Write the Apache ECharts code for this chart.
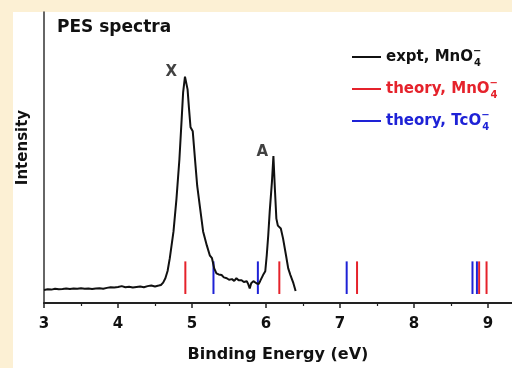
<!DOCTYPE html>
<html>
<head>
<meta charset="utf-8">
<script src="https://cdn.jsdelivr.net/npm/echarts@6/dist/echarts.min.js"></script>
<style>
  html, body { margin: 0; padding: 0; background: #fcf0d4; }
  #panel { position: absolute; left: 13px; top: 12px; width: 499px; height: 356px; background: #ffffff; }
  #chart { position: absolute; left: 0; top: 0; width: 512px; height: 368px; }
</style>
</head>
<body>
<div id="panel"></div>
<div id="chart"></div>
<script>
// ---- data ----
const exptEnergy = [
  3.00, 3.05, 3.10, 3.15, 3.20, 3.25, 3.30, 3.35, 3.40, 3.45, 3.50, 3.55, 3.60, 3.65, 3.70, 3.75,
  3.80, 3.85, 3.90, 3.95, 4.00, 4.05, 4.10, 4.15, 4.20, 4.25, 4.30, 4.35, 4.40, 4.45, 4.50, 4.55,
  4.58, 4.61, 4.64, 4.67, 4.70, 4.75, 4.79, 4.83, 4.86, 4.88, 4.905, 4.94, 4.96, 4.98, 5.01, 5.04,
  5.07, 5.11, 5.15, 5.20, 5.24, 5.27, 5.30, 5.33, 5.36, 5.40, 5.43, 5.47, 5.50, 5.54, 5.57, 5.60,
  5.63, 5.67, 5.70, 5.74, 5.76, 5.78, 5.80, 5.83, 5.85, 5.87, 5.90, 5.92, 5.94, 5.96, 5.99, 6.01,
  6.03, 6.05, 6.08, 6.10, 6.12, 6.14, 6.16, 6.20, 6.23, 6.27, 6.30, 6.33, 6.37, 6.40
];
const exptIntensity = [
  0.045, 0.047, 0.046, 0.049, 0.047, 0.048, 0.050, 0.048, 0.050, 0.049, 0.051, 0.049, 0.050, 0.048, 0.050, 0.051,
  0.049, 0.052, 0.054, 0.053, 0.055, 0.058, 0.054, 0.056, 0.053, 0.055, 0.057, 0.054, 0.058, 0.060, 0.057, 0.060,
  0.062, 0.070, 0.085, 0.110, 0.154, 0.246, 0.358, 0.495, 0.631, 0.724, 0.778, 0.734, 0.666, 0.604, 0.590, 0.495,
  0.403, 0.324, 0.246, 0.198, 0.164, 0.154, 0.119, 0.102, 0.098, 0.096, 0.088, 0.085, 0.080, 0.082, 0.076, 0.085,
  0.078, 0.078, 0.072, 0.075, 0.065, 0.050, 0.068, 0.075, 0.072, 0.068, 0.065, 0.075, 0.078, 0.096, 0.109, 0.164,
  0.232, 0.314, 0.416, 0.505, 0.392, 0.290, 0.266, 0.256, 0.222, 0.164, 0.119, 0.096, 0.068, 0.041
];
const theoryMnO4 = [4.91, 6.18, 7.23, 8.88, 8.98];
const theoryTcO4 = [5.29, 5.89, 7.09, 8.79, 8.85];
const stickLow = 0.031;
const stickHigh = 0.143;
const peakLabels = ['X', 'A'];
const peakLabelEnergy = [4.72, 5.95];
const peakLabelIntensity = [0.795, 0.519];
const xTickValues = [3, 4, 5, 6, 7, 8, 9];
const seriesNames = ['expt, MnO4-', 'theory, MnO4-', 'theory, TcO4-'];

// ---- chart ----
const FONT = 'DejaVu Sans';
const RED = '#e5222b';
const BLUE = '#1e22d6';
const chart = echarts.init(document.getElementById('chart'), null, { renderer: 'canvas' });

function stickRender(params, api) {
  const x = api.value(0);
  const p0 = api.coord([x, api.value(1)]);
  const p1 = api.coord([x, api.value(2)]);
  return {
    type: 'line',
    shape: { x1: p0[0], y1: p0[1], x2: p1[0], y2: p1[1] },
    style: { stroke: api.visual('color'), lineWidth: 2 }
  };
}

chart.setOption({
  backgroundColor: 'transparent',
  animation: false,
  title: {
    text: 'PES spectra', left: 52, top: 14,
    textStyle: { fontFamily: FONT, fontWeight: 'bold', fontSize: 17, color: '#111' }
  },
  legend: {
    orient: 'vertical', left: 347, top: 41, itemGap: 10,
    itemWidth: 29, itemHeight: 2, icon: 'rect',
    data: [
      { name: seriesNames[0], textStyle: { color: '#111' } },
      { name: seriesNames[1], textStyle: { color: RED } },
      { name: seriesNames[2], textStyle: { color: BLUE } }
    ],
    formatter: function (n) {
      return n.replace(/O4-$/, 'O{sup|\u2212}{sub|4}');
    },
    textStyle: {
      fontFamily: FONT, fontWeight: 'bold', fontSize: 15, lineHeight: 22,
      rich: {
        sup: { fontFamily: FONT, fontWeight: 'bold', fontSize: 10, lineHeight: 10, verticalAlign: 'top', width: 1 },
        sub: { fontFamily: FONT, fontWeight: 'bold', fontSize: 10, lineHeight: 10, verticalAlign: 'bottom' }
      }
    }
  },
  grid: { left: 44, right: 0, top: 12, bottom: 62, containLabel: false },
  xAxis: {
    type: 'value', min: 3, max: 9.324, interval: 1,
    name: 'Binding Energy (eV)', nameLocation: 'middle', nameGap: 44,
    nameTextStyle: { fontFamily: FONT, fontWeight: 'bold', fontSize: 16, color: '#111' },
    axisLine: { show: true, onZero: false, lineStyle: { color: '#222', width: 2 } },
    axisTick: { show: true, length: 5, lineStyle: { color: '#222', width: 1.5 }, customValues: xTickValues },
    minorTick: { show: true, splitNumber: 2, length: 3, lineStyle: { color: '#222', width: 1.2 } },
    axisLabel: {
      customValues: xTickValues, margin: 14,
      fontFamily: FONT, fontWeight: 'bold', fontSize: 15, color: '#111'
    },
    splitLine: { show: false }
  },
  yAxis: {
    type: 'value', min: 0, max: 1,
    name: 'Intensity', nameLocation: 'middle', nameGap: 13,
    nameTextStyle: { fontFamily: FONT, fontWeight: 'bold', fontSize: 15, color: '#111', padding: [0, 0, 0, 20] },
    axisLine: { show: true, lineStyle: { color: '#333', width: 1.5 } },
    axisTick: { show: false }, axisLabel: { show: false }, splitLine: { show: false }
  },
  series: [
    {
      name: seriesNames[0], type: 'line', symbol: 'none',
      data: exptEnergy.map((e, i) => [e, exptIntensity[i]]),
      lineStyle: { color: '#111', width: 2 }, itemStyle: { color: '#111' }, z: 3
    },
    {
      name: seriesNames[1], type: 'custom', renderItem: stickRender,
      itemStyle: { color: RED }, encode: { x: 0, y: [1, 2] },
      data: theoryMnO4.map(e => [e, stickLow, stickHigh]), z: 2
    },
    {
      name: seriesNames[2], type: 'custom', renderItem: stickRender,
      itemStyle: { color: BLUE }, encode: { x: 0, y: [1, 2] },
      data: theoryTcO4.map(e => [e, stickLow, stickHigh]), z: 1
    },
    {
      type: 'scatter', symbolSize: 0, silent: true,
      data: peakLabels.map((t, i) => ({ name: t, value: [peakLabelEnergy[i], peakLabelIntensity[i]] })),
      label: {
        show: true, position: 'inside', formatter: '{b}',
        fontFamily: FONT, fontWeight: 'bold', fontSize: 15, color: '#111'
      }
    }
  ]
});
</script>
</body>
</html>
